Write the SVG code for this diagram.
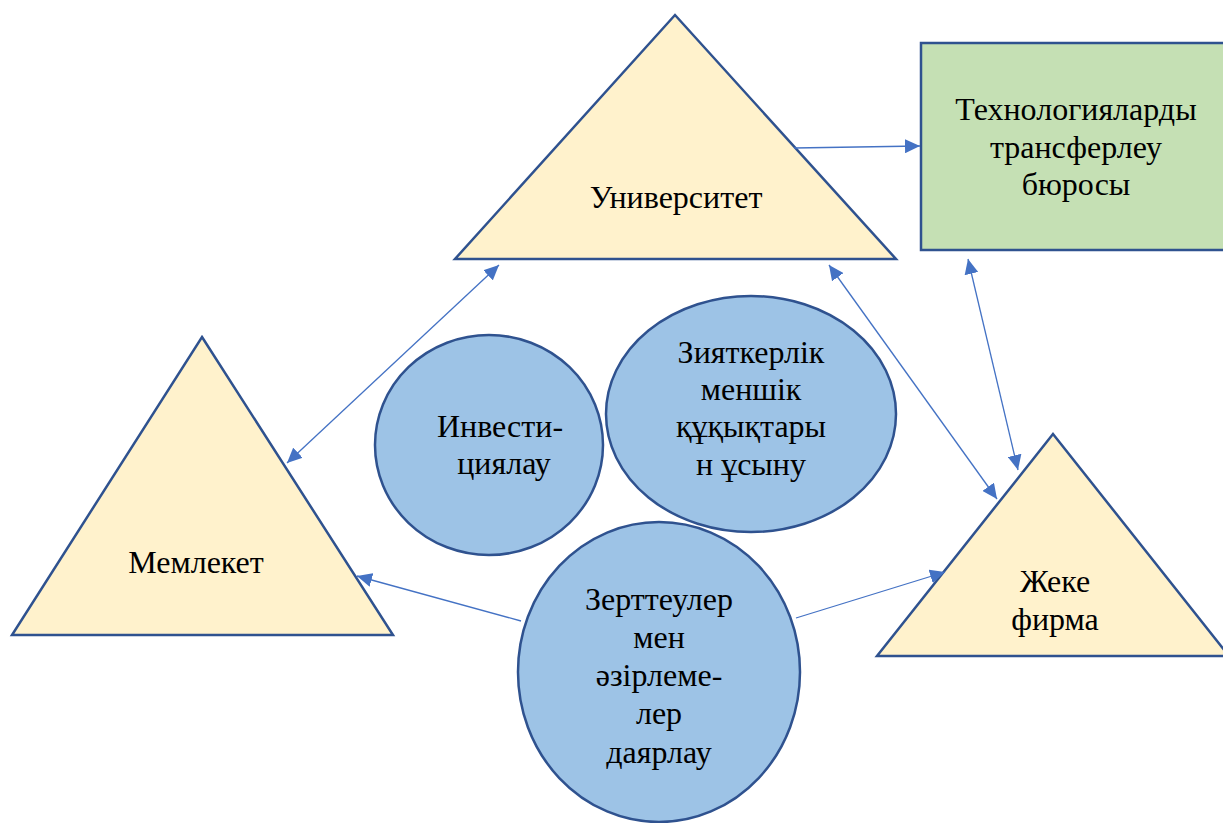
<svg xmlns="http://www.w3.org/2000/svg" width="1223" height="823" viewBox="0 0 1223 823">
  <style>
    .tri { fill: #FFF2CC; stroke: #2F528F; stroke-width: 2.5; stroke-linejoin: miter; }
    .box { fill: #C5E0B4; stroke: #2F528F; stroke-width: 2.5; }
    .oval { fill: #9DC3E6; stroke: #2F528F; stroke-width: 2.5; }
    .link { stroke: #4472C4; stroke-width: 1.3; fill: none; }
  </style>
  <defs>
    <marker id="arrow" markerUnits="userSpaceOnUse" markerWidth="16" markerHeight="14" refX="15" refY="7" orient="auto-start-reverse">
      <path d="M0,0 L15,7 L0,14 Z" fill="#4472C4"/>
    </marker>
  </defs>

  <rect width="1223" height="823" fill="#FFFFFF"/>

  <g font-family="Liberation Serif, Times New Roman, serif" font-size="32" fill="#000000" text-anchor="middle">
  <g id="university">
    <polygon class="tri" points="675,15 896,259 455,259"/>
    <text x="676" y="208">Университет</text>
  </g>

  <g id="transfer-office">
    <rect class="box" x="921" y="43" width="310" height="207"/>
    <text x="1076" y="120">Технологияларды</text>
    <text x="1076" y="158">трансферлеу</text>
    <text x="1076" y="195">бюросы</text>
  </g>

  <g id="state">
    <polygon class="tri" points="202,337 393,635 12,635"/>
    <text x="196" y="573">Мемлекет</text>
  </g>

  <g id="firm">
    <polygon class="tri" points="1053,434 1229,656 877,656"/>
    <text x="1055" y="592">Жеке</text>
    <text x="1055" y="630">фирма</text>
  </g>

  <g id="investment">
    <ellipse class="oval" cx="489" cy="445" rx="114" ry="110"/>
    <text x="500" y="437">Инвести-</text>
    <text x="504" y="474">циялау</text>
  </g>

  <g id="ip-rights">
    <ellipse class="oval" cx="751" cy="414" rx="145" ry="118"/>
    <text x="751" y="363">Зияткерлік</text>
    <text x="751" y="400">меншік</text>
    <text x="751" y="437">құқықтары</text>
    <text x="751" y="475">н ұсыну</text>
  </g>

  <g id="research">
    <ellipse class="oval" cx="659" cy="672" rx="141" ry="150"/>
    <text x="659" y="610">Зерттеулер</text>
    <text x="659" y="648">мен</text>
    <text x="659" y="686">әзірлеме-</text>
    <text x="659" y="724">лер</text>
    <text x="659" y="763">даярлау</text>
  </g>
  </g>

  <g id="connectors">
    <line class="link" x1="794" y1="148" x2="920" y2="146" marker-end="url(#arrow)"/>
    <line class="link" x1="499" y1="265" x2="287" y2="463" marker-start="url(#arrow)" marker-end="url(#arrow)"/>
    <line class="link" x1="829" y1="265" x2="997" y2="499" marker-start="url(#arrow)" marker-end="url(#arrow)"/>
    <line class="link" x1="968" y1="259" x2="1018" y2="470" marker-start="url(#arrow)" marker-end="url(#arrow)"/>
    <line class="link" x1="521" y1="621" x2="357" y2="576" marker-end="url(#arrow)"/>
    <line class="link" x1="796" y1="618" x2="945" y2="572" marker-end="url(#arrow)"/>
  </g>
</svg>
